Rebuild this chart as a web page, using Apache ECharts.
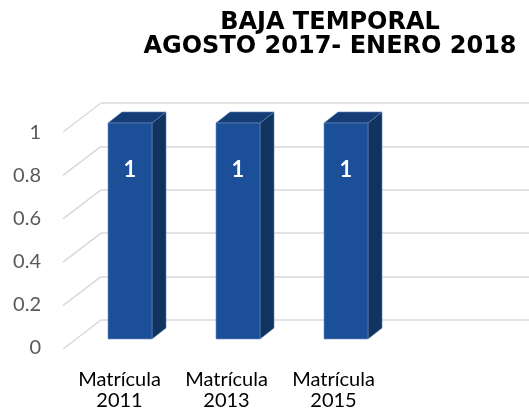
<!DOCTYPE html>
<html>
<head>
<meta charset="utf-8">
<script src="https://cdn.jsdelivr.net/npm/echarts@6/dist/echarts.min.js"></script>
<style>
  html, body { margin: 0; padding: 0; background: #fff; }
  #chart { width: 529px; height: 417px; }
</style>
</head>
<body>
<div id="chart"></div>
<script>
// datos
var categorias = ['Matrícula\n2011', 'Matrícula\n2013', 'Matrícula\n2015'];
var valores = [1, 1, 1];
var ticksY = [0, 0.2, 0.4, 0.6, 0.8, 1];

var fuente = 'Lato';
var grisLinea = '#d9d9d9';

var myChart = echarts.init(document.getElementById('chart'));

// barras 3D: cara frontal, lateral y superior
function barra3d(params, api) {
	var idx = api.value(0);
	var v = api.value(1);
	var top = api.coord([idx, v]);
	var base = api.coord([idx, 0]);
	var w = 44, dx = 14, dy = -11;
	var x0 = top[0] - w / 2, x1 = top[0] + w / 2;
	return {
		type: 'group',
		children: [
			{ type: 'polygon', shape: { points: [[x1, top[1]], [x1 + dx, top[1] + dy], [x1 + dx, base[1] + dy], [x1, base[1]]] },
				style: { fill: '#11335f', stroke: '#5a7fb5', lineWidth: 0.6 } },
			{ type: 'polygon', shape: { points: [[x0, top[1]], [x0 + dx, top[1] + dy], [x1 + dx, top[1] + dy], [x1, top[1]]] },
				style: { fill: '#153d75', stroke: '#5a7fb5', lineWidth: 0.6 } },
			{ type: 'rect', shape: { x: x0, y: top[1], width: w, height: base[1] - top[1] },
				style: { fill: '#1b5098', stroke: '#6b8fc4', lineWidth: 0.6 } },
			{ type: 'text', x: top[0], y: top[1] + 47,
				style: { text: String(v), fill: '#fff', font: 'bold 22px ' + fuente, align: 'center', verticalAlign: 'middle' } }
		]
	};
}

// lineas diagonales del piso / pared lateral
function diagonal(params, api) {
	var p = api.coord([0, api.value(0)]);
	return {
		type: 'line',
		shape: { x1: p[0], y1: p[1], x2: p[0] - 38, y2: p[1] + 29 },
		style: { stroke: grisLinea, lineWidth: 1.5 }
	};
}

var option = {
	animation: false,
	title: {
		text: 'BAJA TEMPORAL\nAGOSTO 2017- ENERO 2018',
		left: 325,
		top: 6,
		textAlign: 'center',
		textStyle: { fontFamily: 'DejaVu Sans', fontWeight: 'bold', fontSize: 24, lineHeight: 24, color: '#000' }
	},
	grid: [
		{ left: 101, right: 0, top: 103, bottom: 97 },   // pared del fondo
		{ left: 49, width: 10, top: 133, bottom: 69 },    // etiquetas eje y
		{ left: 76, right: 129, top: 123, bottom: 78 },  // barras
		{ left: 66, right: 142, top: 300, bottom: 55 }   // etiquetas eje x
	],
	xAxis: [
		{ gridIndex: 0, type: 'value', min: 0, max: 1, show: false },
		{ gridIndex: 1, type: 'value', min: 0, max: 1, show: false },
		{ gridIndex: 2, type: 'category', data: categorias, show: false },
		{ gridIndex: 3, type: 'category', data: categorias,
			axisLine: { show: false }, axisTick: { show: false },
			axisLabel: { margin: 7, fontFamily: fuente, fontSize: 20, lineHeight: 21, color: '#000', interval: 0 } }
	],
	yAxis: [
		{ gridIndex: 0, type: 'value', min: 0, max: 1, interval: 0.2,
			axisLine: { show: false }, axisTick: { show: false }, axisLabel: { show: false },
			splitLine: { lineStyle: { color: grisLinea, width: 1.5 } } },
		{ gridIndex: 1, type: 'value', min: 0, max: 1, interval: 0.2,
			axisLine: { show: false }, axisTick: { show: false }, splitLine: { show: false },
			axisLabel: { margin: 8, fontFamily: fuente, fontSize: 20, color: '#595959' } },
		{ gridIndex: 2, type: 'value', min: 0, max: 1, show: false },
		{ gridIndex: 3, type: 'value', show: false }
	],
	series: [
		{
			type: 'custom',
			xAxisIndex: 0, yAxisIndex: 0,
			renderItem: diagonal,
			data: ticksY.map(function (t) { return [t]; }),
			encode: { y: 0 },
			silent: true
		},
		{
			type: 'custom',
			xAxisIndex: 2, yAxisIndex: 2,
			renderItem: barra3d,
			data: valores.map(function (v, i) { return [i, v]; }),
			encode: { x: 0, y: 1 }
		}
	]
};
myChart.setOption(option);
</script>
</body>
</html>
